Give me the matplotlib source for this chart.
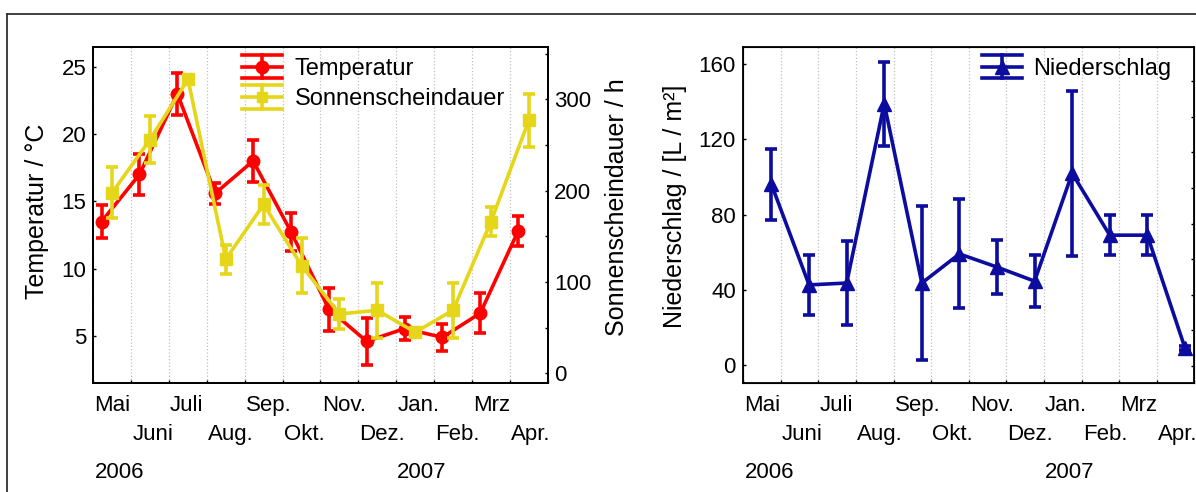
import numpy as np
import matplotlib
matplotlib.use('Agg')
import matplotlib.pyplot as plt
import matplotlib.transforms as mtransforms
from matplotlib.lines import Line2D
from matplotlib.legend_handler import HandlerBase
from matplotlib.ticker import MultipleLocator

plt.rcParams['font.family'] = ['Liberation Sans', 'DejaVu Sans']

# monthly values, Mai 2006 .. Apr. 2007
months = ['Mai', 'Juni', 'Juli', 'Aug.', 'Sep.', 'Okt.', 'Nov.', 'Dez.',
          'Jan.', 'Feb.', 'Mrz', 'Apr.']
years = ['2006', '2007']
year_month = [0, 8]          # month index where each year label starts

temp = [13.5, 17.0, 23.0, 15.6, 18.0, 12.75, 7.0, 4.6, 5.55, 4.9, 6.7, 12.8]
temp_err = [1.2, 1.5, 1.55, 0.8, 1.55, 1.4, 1.6, 1.75, 0.85, 1.0, 1.5, 1.1]

sun = [198, 256, 322, 125, 185, 118, 65, 69, 45, 69, 166, 277]
sun_err = [28, 26, 3, 16, 21, 30, 16, 30, 4, 30, 16, 29]

rain = [96, 42.5, 43.5, 139, 43.5, 59, 52, 44.5, 102, 69, 69, 9]
rain_err = [19, 16, 22.5, 22.5, 41, 29, 14.5, 14, 44, 10.5, 10.5, 1]

# position of the measurement within each month (fraction of month)
temp_pos = 0.22
sun_pos = 0.5
rain_pos = 0.75

RED = '#ff0000'
YELLOW = '#e6d619'
BLUE = '#0c0c9e'
FS = 16
LW = 2.6


class HandlerEB(HandlerBase):
    # error bar legend key: line, full width caps, vertical bar, marker
    def __init__(self, marker, ms, cap=8.4):
        super().__init__()
        self.marker = marker
        self.ms = ms
        self.cap = cap

    def create_artists(self, legend, orig_handle, xdescent, ydescent,
                       width, height, fontsize, trans):
        c = orig_handle.get_color()
        x0, x1 = -xdescent, -xdescent + width
        ym = -ydescent + height / 2
        xm = (x0 + x1) / 2
        arts = [Line2D([x0, x1], [ym, ym], color=c, lw=LW),
                Line2D([x0, x1], [ym + self.cap] * 2, color=c, lw=LW),
                Line2D([x0, x1], [ym - self.cap] * 2, color=c, lw=LW),
                Line2D([xm, xm], [ym - self.cap, ym + self.cap], color=c, lw=LW),
                Line2D([xm], [ym], color=c, marker=self.marker, ms=self.ms, lw=0)]
        for a in arts:
            a.set_transform(trans)
        return arts


def month_labels(ax):
    tr = mtransforms.blended_transform_factory(ax.transData, ax.transAxes)
    for i, m in enumerate(months):
        ax.text(i + 0.03, -0.0857 if i % 2 == 0 else -0.1705, m, transform=tr,
                ha='left', va='baseline', fontsize=FS)
    for y, i in zip(years, year_month):
        ax.text(i + 0.03, -0.2827, y, transform=tr, ha='left', va='baseline',
                fontsize=FS)


def style(ax):
    ax.set_xlim(0, 12)
    ax.set_xticks(np.arange(13))
    ax.set_xticklabels([])
    ax.grid(axis='x', color='#c0c0c0', ls=':', lw=0.9)
    ax.set_axisbelow(True)
    ax.tick_params(direction='in', length=2.5, width=1, labelsize=FS, pad=5)
    for s in ax.spines.values():
        s.set_linewidth(1.3)


fig = plt.figure(figsize=(11.96, 4.92), dpi=100)
W, H = 1196.0, 492.0

# ---- left: temperature + sunshine
ax1 = fig.add_axes([93.3 / W, 1 - 382.7 / H, 454.4 / W, 336 / H])
style(ax1)
x = np.arange(12)
ax1.errorbar(x + temp_pos, temp, yerr=temp_err, color=RED, lw=LW,
             marker='o', ms=9, capsize=4, capthick=LW, elinewidth=LW)
ax1.set_ylim(1.53, 26.49)
ax1.set_yticks([5, 10, 15, 20, 25])

ax2 = ax1.twinx()
ax2.errorbar(x + sun_pos, sun, yerr=sun_err, color=YELLOW, lw=LW,
             marker='s', ms=8, capsize=4, capthick=LW, elinewidth=LW)
ax2.set_ylim(-10.3, 357.7)
ax2.set_yticks([0, 100, 200, 300])
ax2.yaxis.set_minor_locator(MultipleLocator(50))
ax2.tick_params(which='both', direction='in', length=2.5, width=1,
                labelsize=FS, pad=4.5)
for s in ax2.spines.values():
    s.set_linewidth(1.3)
month_labels(ax1)

h1 = Line2D([], [], color=RED)
h2 = Line2D([], [], color=YELLOW)
ax1.legend([h1, h2], ['Temperatur', 'Sonnenscheindauer'],
           handler_map={h1: HandlerEB('o', 9), h2: HandlerEB('s', 6.5)},
           loc='upper left', bbox_to_anchor=(241.7 / W, 1 - 58 / H),
           bbox_transform=fig.transFigure, frameon=False, fontsize=17,
           borderpad=0, borderaxespad=0, handlelength=1.7,
           handletextpad=0.55, labelspacing=0.35)

fig.text(37 / W, 1 - 211 / H, 'Temperatur / °C', rotation=90,
         ha='center', va='center', fontsize=18)
fig.text(617 / W, 1 - 207 / H, 'Sonnenscheindauer / h', rotation=90,
         ha='center', va='center', fontsize=18)

# ---- right: precipitation
ax3 = fig.add_axes([743.3 / W, 1 - 382.7 / H, 451 / W, 336 / H])
style(ax3)
ax3.tick_params(pad=5.3)
ax3.errorbar(x + rain_pos, rain, yerr=rain_err, color=BLUE, lw=LW,
             marker='^', ms=10, capsize=4, capthick=LW, elinewidth=LW)
ax3.set_ylim(-9.6, 169.4)
ax3.set_yticks([0, 40, 80, 120, 160])
ax4 = ax3.twinx()
ax4.set_ylim(-0.479, 8.975)
ax4.set_yticks(np.arange(9))
ax4.set_yticklabels([])
ax4.tick_params(direction='in', length=2.5, width=1)
month_labels(ax3)

h3 = Line2D([], [], color=BLUE)
ax3.legend([h3], ['Niederschlag'], handler_map={h3: HandlerEB('^', 10)},
           loc='upper left', bbox_to_anchor=(981.5 / W, 1 - 58 / H),
           bbox_transform=fig.transFigure, frameon=False, fontsize=17,
           borderpad=0, borderaxespad=0, handlelength=1.7,
           handletextpad=0.5)

fig.text(675 / W, 1 - 206.5 / H, 'Niederschlag / [L / m²]', rotation=90,
         ha='center', va='center', fontsize=18)

# outer frame (top and left edge visible)
fig.add_artist(Line2D([7 / W, 1], [1 - 14 / H] * 2, transform=fig.transFigure,
                      color='#303030', lw=1.3))
fig.add_artist(Line2D([7 / W] * 2, [0, 1 - 14 / H], transform=fig.transFigure,
                      color='#303030', lw=1.3))

fig.savefig('out.png', dpi=100)
